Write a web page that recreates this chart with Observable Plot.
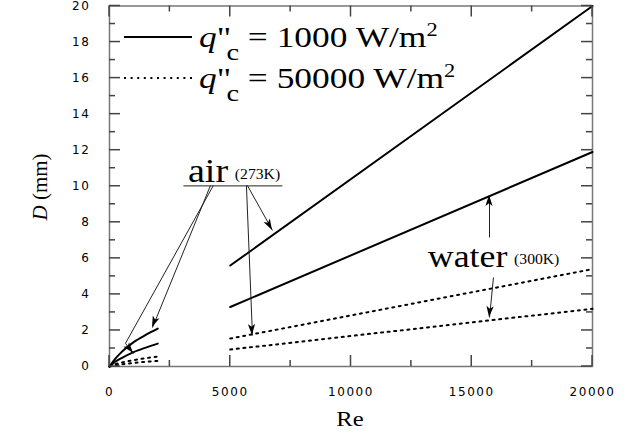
<!DOCTYPE html>
<html><head><meta charset="utf-8">
<script src="https://cdn.jsdelivr.net/npm/d3@7"></script>
<script src="https://cdn.jsdelivr.net/npm/@observablehq/plot@0.6"></script>
<style>body{margin:0;background:#fff}</style>
</head><body><div id="chart"></div>
<script>
// ---- data ----
const reLam = [0, 250, 500, 1000, 1500, 2000];
const airLamQ1 = [0, 0.45, 0.8, 1.35, 1.75, 2.1];
const waterLamQ1 = [0, 0.28, 0.47, 0.8, 1.05, 1.27];
const airLamQ2 = [0, 0.13, 0.22, 0.35, 0.46, 0.55];
const waterLamQ2 = [0, 0.07, 0.12, 0.2, 0.26, 0.31];
const reTurb = [5000, 20000];
const airTurbQ1 = [5.6, 20];
const waterTurbQ1 = [3.3, 11.9];
const airTurbQ2 = [1.55, 5.4];
const waterTurbQ2 = [0.94, 3.2];
const xMajor = [0, 5000, 10000, 15000, 20000];
const xMinor = [2500, 7500, 12500, 17500];
const yMajor = [0, 2, 4, 6, 8, 10, 12, 14, 16, 18, 20];
const yMinor = [1, 3, 5, 7, 9, 11, 13, 15, 17, 19];
const legendLabels = ["1000 W/m", "50000 W/m"];
// annotation arrows: [x1, y1, x2, y2, hasHead]
const arrowSegs = [
  [4180, 10.04, 1780, 2.16, true],
  [4300, 10.04, 660, 1.28, false],
  [660, 1.28, 1000, 0.72, true],
  [5710, 10.04, 6750, 7.55, true],
  [5670, 10.04, 5920, 1.72, true],
  [15735, 7.16, 15735, 9.49, true],
  [15900, 4.94, 15735, 2.72, true]
];
const airUnderline = [3060, 7160, 10.02];
const airLabel = {x: 3270, y: 10.2, text: "air", sub: "(273K)", size: 34};
const waterLabel = {x: 13200, y: 5.49, text: "water", sub: "(300K)", size: 32};

// ---- build rows ----
function rows(xs, ys, s) { return xs.map((x, i) => ({x, y: ys[i], s})); }
const solidLam = [...rows(reLam, airLamQ1, "a"), ...rows(reLam, waterLamQ1, "w")];
const dotLam = [...rows(reLam, airLamQ2, "a"), ...rows(reLam, waterLamQ2, "w")];
const solidTurb = [...rows(reTurb, airTurbQ1, "a"), ...rows(reTurb, waterTurbQ1, "w")];
const dotTurb = [...rows(reTurb, airTurbQ2, "a"), ...rows(reTurb, waterTurbQ2, "w")];

const W = 632, H = 437, mL = 109, mR = 40, mT = 5.5, mB = 71;
const xMax = 20000, yMax = 20;
const tc = "#444";
const dots = "2,4.6";
const majL = 11, minL = 6;

const plot = Plot.plot({
  width: W, height: H,
  marginLeft: mL, marginRight: mR, marginTop: mT, marginBottom: mB,
  x: {domain: [0, xMax]},
  y: {domain: [0, yMax]},
  style: {fontFamily: "DejaVu Sans", fontSize: "12px", color: "#000", background: "#fff", overflow: "visible"},
  marks: [
    Plot.frame({stroke: "#777", strokeWidth: 1.5}),
    Plot.axisX(xMajor, {tickSize: 0, tickPadding: 21, label: null, tickFormat: d => String(d), fontSize: 12}),
    Plot.axisY(yMajor, {tickSize: 0, tickPadding: 19, label: null, tickFormat: d => String(d), fontSize: 12}),
    Plot.line(solidLam, {x: "x", y: "y", z: "s", curve: "monotone-x", stroke: "#000", strokeWidth: 2}),
    Plot.line(dotLam, {x: "x", y: "y", z: "s", curve: "monotone-x", stroke: "#000", strokeWidth: 2, strokeDasharray: dots}),
    Plot.line(solidTurb, {x: "x", y: "y", z: "s", stroke: "#000", strokeWidth: 2}),
    Plot.line(dotTurb, {x: "x", y: "y", z: "s", stroke: "#000", strokeWidth: 2, strokeDasharray: dots}),
    Plot.link(arrowSegs, {x1: d => d[0], y1: d => d[1], x2: d => d[2], y2: d => d[3], stroke: "#222", strokeWidth: 1}),
    Plot.link([airUnderline], {x1: d => d[0], x2: d => d[1], y1: d => d[2], y2: d => d[2], stroke: "#222", strokeWidth: 1})
  ]
});

const svg = d3.select(plot).style("letter-spacing", "1.6px");
const sx = plot.scale("x"), sy = plot.scale("y");
const X0 = sx.apply(0), X1 = sx.apply(xMax), Y0 = sy.apply(0), Y1 = sy.apply(yMax);

// inward ticks on all four sides, positioned with the plot's scales
const tg = svg.append("g").attr("stroke", tc).attr("stroke-width", 1.5).attr("fill", "none");
for (const [vals, len] of [[yMajor, majL], [yMinor, minL]]) for (const v of vals) {
  const y = sy.apply(v);
  tg.append("path").attr("d", `M${X0},${y}H${X0 + len}`);
  tg.append("path").attr("d", `M${X1 - len},${y}H${X1}`);
}
for (const [vals, len] of [[xMajor, majL], [xMinor, minL]]) for (const v of vals) {
  const x = sx.apply(v);
  tg.append("path").attr("d", `M${x},${Y0}V${Y0 - len}`);
  tg.append("path").attr("d", `M${x},${Y1}V${Y1 + len}`);
}

// arrowheads
for (const a of arrowSegs) if (a[4]) {
  const x1 = sx.apply(a[0]), y1 = sy.apply(a[1]), x2 = sx.apply(a[2]), y2 = sy.apply(a[3]);
  const ang = Math.atan2(y2 - y1, x2 - x1), L = 11, w = 3.6;
  const c = Math.cos(ang), s = Math.sin(ang);
  const bx = x2 - L * c, by = y2 - L * s, nx = x2 - 0.75 * L * c, ny = y2 - 0.75 * L * s;
  svg.append("path")
    .attr("d", `M${x2},${y2}L${bx - s * w},${by + c * w}L${nx},${ny}L${bx + s * w},${by - c * w}Z`)
    .attr("fill", "#000");
}

const serif = "Liberation Serif";
function stretched(x, y, k) {
  return svg.append("g").attr("transform", `translate(${x},${y}) scale(${k},1)`)
    .append("text").attr("font-family", serif).attr("fill", "#000")
    .attr("text-anchor", "start").style("letter-spacing", "0px");
}

// legend
const legY = [37, 78];
legendLabels.forEach((lab, i) => {
  svg.append("line").attr("x1", 124).attr("x2", 192).attr("y1", legY[i]).attr("y2", legY[i])
    .attr("stroke", "#000").attr("stroke-width", 2).attr("stroke-dasharray", i ? dots : null);
  const t = stretched(199, legY[i] + 10, 1.18).attr("font-size", 30);
  t.append("tspan").attr("font-style", "italic").text("q");
  t.append("tspan").text("\"");
  t.append("tspan").attr("font-size", 24).attr("dy", 13).attr("dx", -4).text("c");
  t.append("tspan").attr("dy", -13).text(" = " + lab);
  t.append("tspan").attr("font-size", 19).attr("dy", -11).text("2");
});

// annotation labels
for (const lab of [airLabel, waterLabel]) {
  const t = stretched(sx.apply(lab.x), sy.apply(lab.y), 1.12).attr("font-size", lab.size);
  t.append("tspan").text(lab.text);
  t.append("tspan").attr("font-size", 14).attr("dx", 6).attr("dy", -3).text(lab.sub);
}

// axis titles
const yl = svg.append("text").attr("transform", "translate(47,187) rotate(-90)")
  .attr("text-anchor", "middle").attr("font-family", serif).attr("font-size", 21).attr("fill", "#000").style("letter-spacing", "0px");
yl.append("tspan").attr("font-style", "italic").text("D");
yl.append("tspan").text(" (mm)");
stretched(350, 426, 1.12).attr("font-size", 22).attr("text-anchor", "middle").text("Re");

document.getElementById("chart").appendChild(plot);
</script>
</body></html>
